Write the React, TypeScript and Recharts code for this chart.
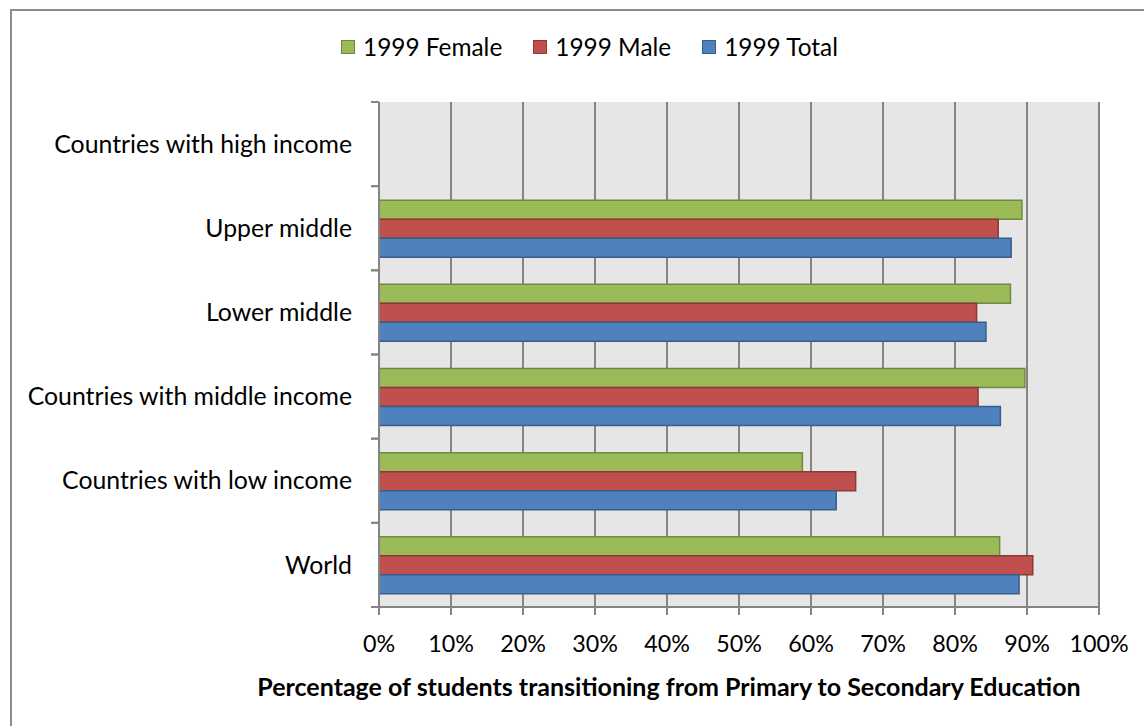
import React from 'react';
import { BarChart, Bar, XAxis, YAxis, CartesianGrid, Label } from 'recharts';

const categories = [
  'Countries with high income',
  'Upper middle',
  'Lower middle',
  'Countries with middle income',
  'Countries with low income',
  'World',
];
const female = [null, 89.3, 87.7, 89.7, 58.8, 86.2];
const male = [null, 86.0, 83.0, 83.2, 66.2, 90.8];
const total = [null, 87.8, 84.3, 86.3, 63.5, 88.9];
const xTicks = [0, 10, 20, 30, 40, 50, 60, 70, 80, 90, 100];
const seriesNames = ['1999 Female', '1999 Male', '1999 Total'];

const data = categories.map((c, i) => ({
  name: c,
  female: female[i],
  male: male[i],
  total: total[i],
}));

const FONT = 'Lato, "Open Sans", sans-serif';
const GRID = '#858585';

const colors = [
  { fill: '#9bbb59', stroke: '#71893f' },
  { fill: '#c0504d', stroke: '#8c3836' },
  { fill: '#4f81bd', stroke: '#385d8a' },
];

const YTick = (props: any) => {
  const { x, y, payload } = props;
  const off = payload.offset || 0;
  const axisX = x + 8 + 19;
  return (
    <g>
      <line x1={axisX - 8} x2={axisX} y1={y - off} y2={y - off} stroke={GRID} strokeWidth={2} />
      <line x1={axisX - 8} x2={axisX} y1={y + off} y2={y + off} stroke={GRID} strokeWidth={2} />
      <text x={x} y={y} dy="0.35em" textAnchor="end" fontFamily={FONT} fontSize={24.8} fill="#000">
        {payload.value}
      </text>
    </g>
  );
};

const LegendBox = () => (
  <div
    style={{
      position: 'absolute',
      left: 341,
      top: 32,
      display: 'flex',
      alignItems: 'center',
      fontFamily: FONT,
      fontSize: 24.4,
      color: '#000',
      whiteSpace: 'nowrap',
    }}
  >
    {seriesNames.map((n, i) => (
      <div key={n} style={{ display: 'flex', alignItems: 'center', marginRight: i < 2 ? 31 : 0 }}>
        <div
          style={{
            width: 12,
            height: 12,
            background: colors[i].fill,
            border: `1px solid ${colors[i].stroke}`,
            marginRight: 8,
          }}
        />
        <span>{n}</span>
      </div>
    ))}
  </div>
);

export default function App() {
  return (
    <div style={{ position: 'absolute', left: 0, top: 0, width: 1144, height: 726, overflow: 'hidden', background: '#fff' }}>
      <div
        style={{
          position: 'absolute',
          left: 10,
          top: 9,
          width: 1300,
          height: 900,
          borderLeft: '2px solid #8c8c8c',
          borderTop: '2px solid #8c8c8c',
        }}
      />
      <div style={{ position: 'absolute', left: 0, top: 0 }}>
        <BarChart
          width={1144}
          height={726}
          data={data}
          layout="vertical"
          margin={{ top: 102, right: 45, bottom: 0, left: 0 }}
          barCategoryGap={14}
          barGap={0}
        >
          <CartesianGrid horizontal={false} vertical={true} stroke={GRID} strokeWidth={2} fill="#e6e6e6" />
          <XAxis
            type="number"
            domain={[0, 100]}
            ticks={xTicks}
            tickFormatter={(v: number) => `${v}%`}
            height={119}
            tickSize={8}
            tickMargin={20}
            axisLine={{ stroke: GRID, strokeWidth: 2 }}
            tickLine={{ stroke: GRID, strokeWidth: 2 }}
            tick={{ fontFamily: FONT, fontSize: 23.3, fill: '#000' }}
            interval={0}
          >
            <Label
              value="Percentage of students transitioning from Primary to Secondary Education"
              position="insideBottom"
              offset={30}
              dx={-70}
              style={{ fontFamily: FONT, fontSize: 25, fontWeight: 'bold', fill: '#000' }}
            />
          </XAxis>
          <YAxis
            type="category"
            dataKey="name"
            width={379}
            tickSize={8}
            tickMargin={19}
            tickLine={false}
            axisLine={{ stroke: GRID, strokeWidth: 2 }}
            tick={<YTick />}
            interval={0}
          />
          <Bar dataKey="female" name={seriesNames[0]} fill={colors[0].fill} stroke={colors[0].stroke} strokeWidth={1.5} isAnimationActive={false} />
          <Bar dataKey="male" name={seriesNames[1]} fill={colors[1].fill} stroke={colors[1].stroke} strokeWidth={1.5} isAnimationActive={false} />
          <Bar dataKey="total" name={seriesNames[2]} fill={colors[2].fill} stroke={colors[2].stroke} strokeWidth={1.5} isAnimationActive={false} />
        </BarChart>
      </div>
      <LegendBox />
    </div>
  );
}
